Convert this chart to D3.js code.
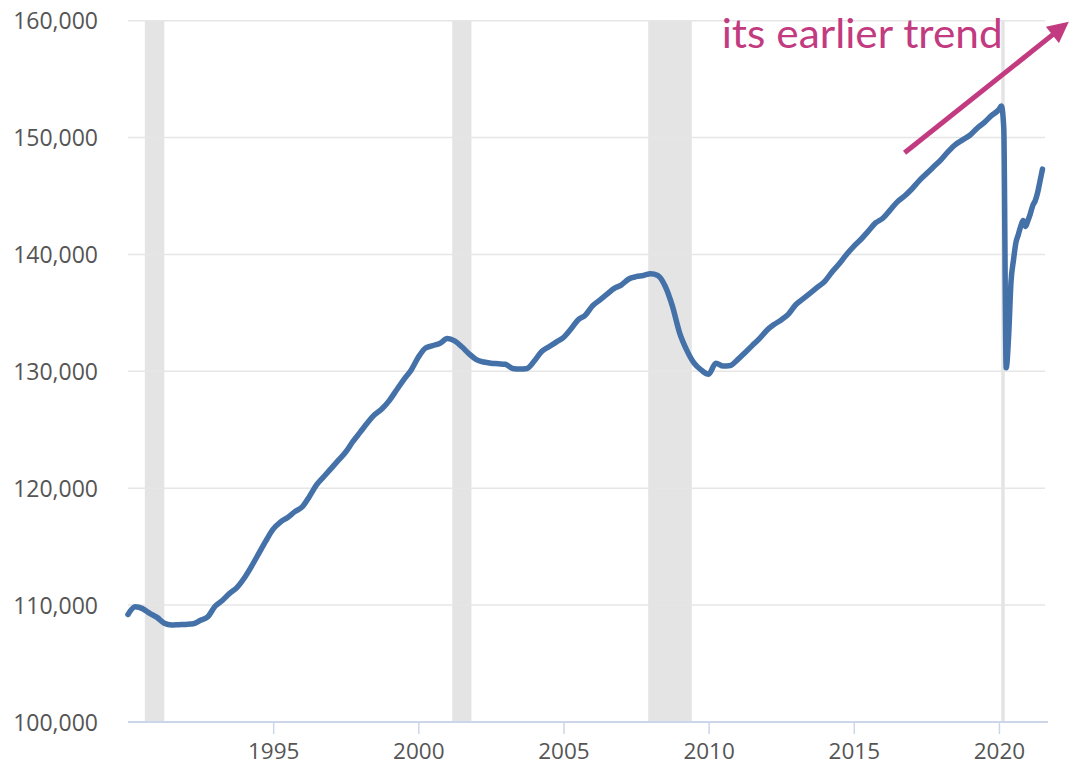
<!DOCTYPE html>
<meta charset="utf-8">
<style>
    body { margin: 0; background: #fff; }
    .grid line { stroke: #e6e6e6; stroke-width: 1.5px; }
    .axis text { font-family: "Open Sans", sans-serif; fill: #555; }
    .bands rect { fill: #e4e4e4; }
</style>
<svg width="1089" height="769"></svg>
<script src="https://d3js.org/d3.v7.min.js"></script>
<script>

    // employment level, thousands -- quarterly (Jan/Apr/Jul/Oct) 1990..2019
    var quarterlyStart = 1990;
    var quarterlyValues = [
        109200, 109850, 109700, 109300,
        108950, 108450, 108300, 108330,
        108350, 108400, 108700, 109000,
        109900, 110400, 111000, 111500,
        112300, 113300, 114400, 115500,
        116500, 117100, 117500, 118000,
        118400, 119300, 120300, 121000,
        121700, 122400, 123100, 124000,
        124800, 125600, 126300, 126800,
        127500, 128400, 129300, 130100,
        131200, 132000, 132200, 132400,
        132800, 132600, 132100, 131500,
        131000, 130800, 130700, 130650,
        130600, 130250, 130200, 130250,
        130900, 131700, 132100, 132500,
        132900, 133600, 134400, 134800,
        135600, 136100, 136600, 137100,
        137400, 137900, 138100, 138200,
        138350, 138200, 137300, 135600,
        133300, 131800, 130700, 130100,
        129750, 130700, 130450, 130500,
        131000, 131600, 132200, 132800,
        133500, 134000, 134400, 134900,
        135700, 136200, 136700, 137200,
        137700, 138500, 139200, 140000,
        140700, 141300, 142000, 142700,
        143100, 143800, 144500, 145000,
        145600, 146300, 146900, 147500,
        148100, 148800, 149400, 149800,
        150200, 150800, 151300, 151900
    ];

    // monthly from Jan 2020 to Jul 2021
    var monthlyStart = 2020;
    var monthlyValues = [
        152400, 152700, 150800, 130300, 133000, 137700,
        139500, 141000, 141700, 142400, 142900, 142400,
        142900, 143500, 144200, 144600, 145300, 146300, 147300
    ];

    // recessions [start, end] in decimal years
    var recessions = [[1990.58, 1991.25], [2001.17, 2001.83], [2007.92, 2009.42], [2020.08, 2020.2]];

    var yTicks = [100000, 110000, 120000, 130000, 140000, 150000, 160000];
    var xTicks = [1995, 2000, 2005, 2010, 2015, 2020];

    // annotation
    var noteText = "its earlier trend";
    var notePos = [2010.45, 157650];
    var arrowFrom = [2016.75, 148700];
    var arrowTo = [2022.4, 159900];

    var svg = d3.select("svg");

    var x = d3.scaleLinear().domain([1990, 2021.69]).range([128, 1048]);
    var y = d3.scaleLinear().domain([100000, 160000]).range([722, 20.7]);

    var data = [];
    quarterlyValues.forEach(function(v, i) { data.push({t: quarterlyStart + i * 0.25, v: v}); });
    monthlyValues.forEach(function(v, i) { data.push({t: monthlyStart + i / 12, v: v}); });

    // recession bands
    svg.append("g").attr("class", "bands")
        .selectAll("rect").data(recessions).enter().append("rect")
        .attr("x", function(d) { return x(d[0]); })
        .attr("width", function(d) { return Math.max(3, x(d[1]) - x(d[0])); })
        .attr("y", y(160000))
        .attr("height", y(100000) - y(160000));

    // grid
    svg.append("g").attr("class", "grid")
        .selectAll("line").data(yTicks.slice(1)).enter().append("line")
        .attr("x1", x(1990)).attr("x2", 1045)
        .attr("y1", function(d) { return y(d); })
        .attr("y2", function(d) { return y(d); });

    // y axis labels
    var yAxis = svg.append("g").attr("class", "axis")
        .attr("transform", "translate(98,0)")
        .call(d3.axisLeft(y).tickValues(yTicks).tickSize(0).tickPadding(0).tickFormat(d3.format(",")));
    yAxis.select(".domain").remove();
    yAxis.selectAll("text").style("font-size", "23px").attr("dy", "0.36em");

    // x axis
    var xAxis = svg.append("g").attr("class", "axis")
        .attr("transform", "translate(0," + y(100000) + ")")
        .call(d3.axisBottom(x).tickValues(xTicks).tickSize(12).tickPadding(9).tickFormat(d3.format("d")));
    xAxis.select(".domain").attr("stroke", "#ccd6eb").attr("stroke-width", 2).attr("d", "M" + x(1990) + ",0H1048");
    xAxis.selectAll(".tick line").attr("stroke", "#ccd6eb").attr("stroke-width", 1.5);
    xAxis.selectAll("text").style("font-size", "22.5px");

    // series
    var line = d3.line()
        .x(function(d) { return x(d.t); })
        .y(function(d) { return y(d.v); })
        .curve(d3.curveMonotoneX);

    svg.append("path")
        .datum(data)
        .attr("fill", "none")
        .attr("stroke", "#4471a8")
        .attr("stroke-width", 5.5)
        .attr("stroke-linejoin", "round")
        .attr("stroke-linecap", "round")
        .attr("d", line);

    // annotation
    svg.append("defs").append("marker")
        .attr("id", "head")
        .attr("viewBox", "0 0 10 10")
        .attr("refX", 5).attr("refY", 5)
        .attr("markerWidth", 4.6).attr("markerHeight", 4.2)
        .attr("orient", "auto")
        .append("path").attr("d", "M0,0L10,5L0,10Z").attr("fill", "#c23b80");

    svg.append("line")
        .attr("x1", x(arrowFrom[0])).attr("y1", y(arrowFrom[1]))
        .attr("x2", x(arrowTo[0]) - 8).attr("y2", y(arrowTo[1]) + 6.5)
        .attr("stroke", "#c23b80")
        .attr("stroke-width", 5)
        .attr("marker-end", "url(#head)");

    svg.append("text")
        .attr("x", x(notePos[0])).attr("y", y(notePos[1]))
        .attr("font-family", "Lato, sans-serif")
        .attr("font-size", 40)
        .attr("fill", "#c23b80")
        .attr("textLength", 281)
        .attr("lengthAdjust", "spacingAndGlyphs")
        .text(noteText);

</script>
